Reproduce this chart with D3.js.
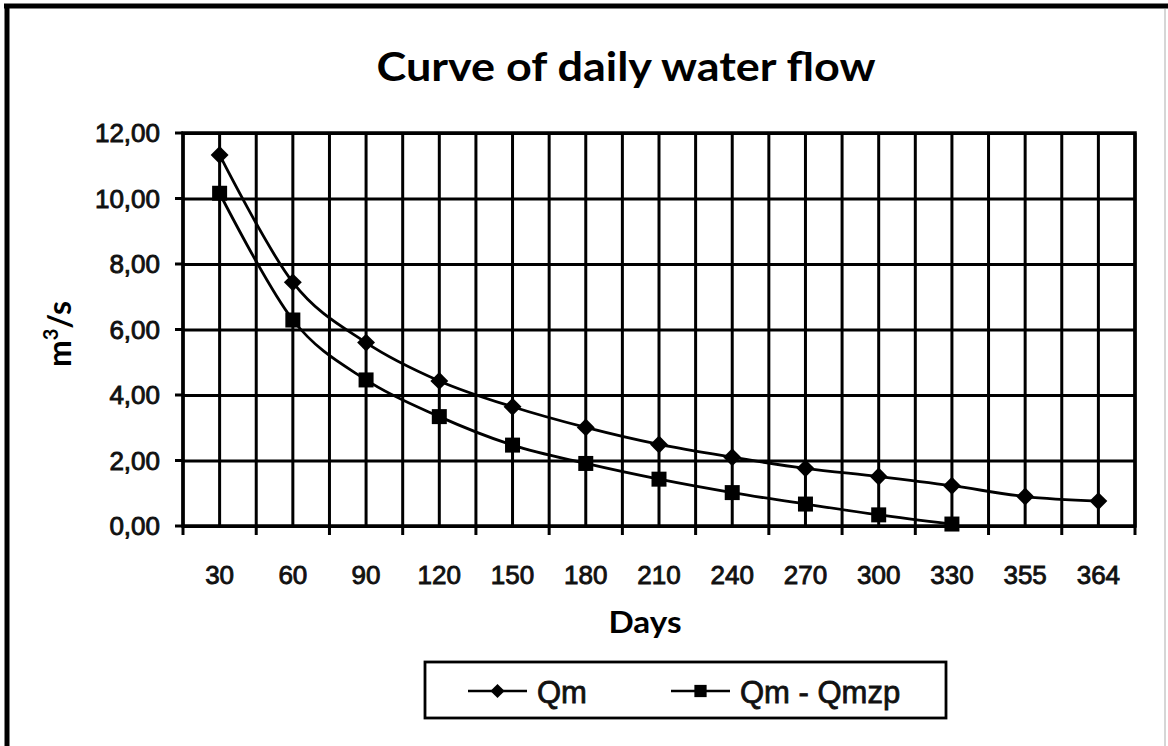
<!DOCTYPE html>
<html>
<head>
<meta charset="utf-8">
<script src="https://cdn.jsdelivr.net/npm/d3@7"></script>
<style>
  html, body { margin: 0; padding: 0; background: #fff; }
  svg { display: block; }
</style>
</head>
<body>
<svg id="chart" width="1168" height="746"></svg>
<script>
// ---- data ----
const days = ["30", "60", "90", "120", "150", "180", "210", "240", "270", "300", "330", "355", "364"];
const qm = [11.33, 7.44, 5.60, 4.43, 3.64, 3.01, 2.49, 2.10, 1.76, 1.51, 1.23, 0.90, 0.76];
const qmMinusQmzp = [10.16, 6.29, 4.46, 3.34, 2.47, 1.91, 1.43, 1.02, 0.67, 0.34, 0.06, null, null];
const yTicks = [0, 2, 4, 6, 8, 10, 12];
const seriesNames = ["Qm", "Qm - Qmzp"];

(function () {
// ---- layout ----
const W = 1168, H = 746;
const pL = 183, pR = 1135, pT = 133, pB = 526;
const svg = d3.select("#chart");
const GW = 3; // grid stroke

svg.append("rect").attr("width", W).attr("height", H).attr("fill", "#fff");

// outer frame (partially visible in the reference)
svg.append("line").attr("x1", 4).attr("x2", W).attr("y1", 6).attr("y2", 6)
  .attr("stroke", "#000").attr("stroke-width", 5);
svg.append("line").attr("x1", 7).attr("x2", 7).attr("y1", 4).attr("y2", H)
  .attr("stroke", "#000").attr("stroke-width", 5);
svg.append("line").attr("x1", 1165).attr("x2", 1165).attr("y1", 9).attr("y2", H)
  .attr("stroke", "#bbb").attr("stroke-width", 1.2);

const x = d3.scaleBand().domain(days).range([pL, pR]).padding(0);
const y = d3.scaleLinear().domain([0, 12]).range([pB, pT]);
const xc = d => x(d) + x.bandwidth() / 2;

const g = svg.append("g");

// horizontal grid
g.append("g").attr("transform", `translate(${pL},0)`)
  .call(d3.axisLeft(y).tickValues(yTicks).tickSize(-(pR - pL)).tickFormat(""))
  .call(s => s.select(".domain").remove())
  .call(s => s.selectAll("line").attr("stroke", "#000").attr("stroke-width", GW));

// vertical grid at category centres
g.append("g").attr("transform", `translate(0,${pB})`)
  .call(d3.axisBottom(x).tickSize(-(pB - pT)).tickFormat(""))
  .call(s => s.select(".domain").remove())
  .call(s => s.selectAll("line").attr("stroke", "#000").attr("stroke-width", GW));

// vertical grid at category boundaries (with tick marks below the axis)
const boundaries = days.map(d => x(d)).concat([pR]);
g.append("g").selectAll("line").data(boundaries).join("line")
  .attr("x1", d => d).attr("x2", d => d)
  .attr("y1", pT).attr("y2", pB + 9)
  .attr("stroke", "#000").attr("stroke-width", GW);

// y tick marks
g.append("g").selectAll("line").data(yTicks).join("line")
  .attr("x1", pL - 8).attr("x2", pL)
  .attr("y1", d => y(d)).attr("y2", d => y(d))
  .attr("stroke", "#000").attr("stroke-width", GW);

// plot frame
g.append("rect").attr("x", pL).attr("y", pT)
  .attr("width", pR - pL).attr("height", pB - pT)
  .attr("fill", "none").attr("stroke", "#000").attr("stroke-width", 3.5);

// y labels
const fmt = v => d3.format(".2f")(v).replace(".", ",");
g.append("g").selectAll("text").data(yTicks).join("text")
  .attr("x", 160).attr("y", d => y(d)).attr("dy", "0.36em")
  .attr("text-anchor", "end")
  .attr("font-family", "Liberation Sans, Arial, sans-serif")
  .attr("font-size", 26).attr("fill", "#111")
  .attr("stroke", "#111").attr("stroke-width", 0.9)
  .text(fmt);

// x labels
g.append("g").selectAll("text").data(days).join("text")
  .attr("x", d => xc(d)).attr("y", 584)
  .attr("text-anchor", "middle")
  .attr("font-family", "Liberation Sans, Arial, sans-serif")
  .attr("font-size", 26).attr("fill", "#111")
  .attr("stroke", "#111").attr("stroke-width", 0.9)
  .text(d => d);

// series
const line = d3.line()
  .defined(d => d.v !== null)
  .x(d => xc(d.k)).y(d => y(d.v))
  .curve(d3.curveCatmullRom.alpha(0));

const s1 = days.map((k, i) => ({ k, v: qm[i] }));
const s2 = days.map((k, i) => ({ k, v: qmMinusQmzp[i] }));

g.append("path").datum(s1).attr("d", line)
  .attr("fill", "none").attr("stroke", "#000").attr("stroke-width", 2.8);
g.append("path").datum(s2).attr("d", line)
  .attr("fill", "none").attr("stroke", "#000").attr("stroke-width", 2.8);

const diamond = d3.symbol(d3.symbolSquare, 160);
const square = d3.symbol(d3.symbolSquare, 225);

g.append("g").selectAll("path").data(s1.filter(d => d.v !== null)).join("path")
  .attr("d", diamond)
  .attr("transform", d => `translate(${xc(d.k)},${y(d.v)}) rotate(45)`)
  .attr("fill", "#000");
g.append("g").selectAll("path").data(s2.filter(d => d.v !== null)).join("path")
  .attr("d", square)
  .attr("transform", d => `translate(${xc(d.k)},${y(d.v)})`)
  .attr("fill", "#000");

// title
svg.append("text").attr("x", 626).attr("y", 81)
  .attr("text-anchor", "middle")
  .attr("font-family", "Lato, Open Sans, sans-serif").attr("font-weight", "bold")
  .attr("font-size", 40).attr("textLength", 499).attr("lengthAdjust", "spacingAndGlyphs")
  .text("Curve of daily water flow");

// x axis title
svg.append("text").attr("x", 645).attr("y", 633)
  .attr("text-anchor", "middle")
  .attr("font-family", "Lato, Open Sans, sans-serif").attr("font-weight", "bold")
  .attr("font-size", 30).attr("textLength", 73).attr("lengthAdjust", "spacingAndGlyphs")
  .text("Days");

// y axis title
const yt = svg.append("text")
  .attr("transform", "translate(71,334) rotate(-90)")
  .attr("text-anchor", "middle")
  .attr("font-family", "Lato, Open Sans, sans-serif").attr("font-weight", "bold")
  .attr("font-size", 32);
yt.append("tspan").text("m");
yt.append("tspan").attr("dy", -13).attr("font-size", 20).text("3");
yt.append("tspan").attr("dy", 13).text("/s");

// legend
const lg = svg.append("g");
lg.append("rect").attr("x", 425).attr("y", 662).attr("width", 521).attr("height", 56)
  .attr("fill", "#fff").attr("stroke", "#000").attr("stroke-width", 2.8);
const legendItems = [
  { name: seriesNames[0], x0: 468, sym: d3.symbol(d3.symbolSquare, 100), rot: 45, tx: 537 },
  { name: seriesNames[1], x0: 671, sym: d3.symbol(d3.symbolSquare, 150), rot: 0, tx: 740 }
];
legendItems.forEach(it => {
  lg.append("line").attr("x1", it.x0).attr("x2", it.x0 + 59).attr("y1", 691).attr("y2", 691)
    .attr("stroke", "#000").attr("stroke-width", 2.4);
  lg.append("path").attr("d", it.sym)
    .attr("transform", `translate(${it.x0 + 29.5},691) rotate(${it.rot})`).attr("fill", "#000");
  lg.append("text").attr("x", it.tx).attr("y", 703)
    .attr("font-family", "Liberation Sans, Arial, sans-serif")
    .attr("font-size", 31).attr("fill", "#111")
    .attr("stroke", "#111").attr("stroke-width", 0.8)
    .text(it.name);
});
})();
</script>
</body>
</html>
